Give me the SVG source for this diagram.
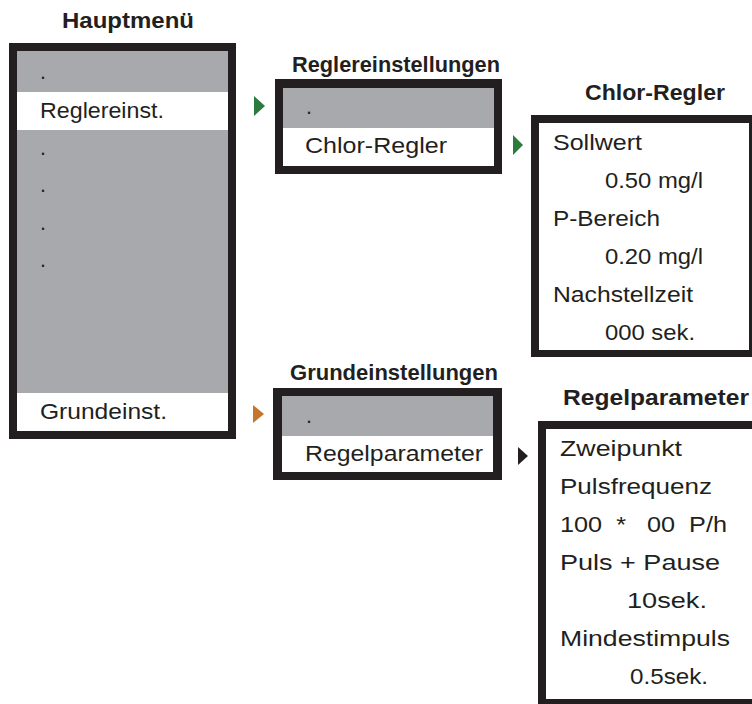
<svg xmlns="http://www.w3.org/2000/svg" width="752" height="704" viewBox="0 0 752 704">
<style>
.frame{fill:#231f20}
.gray{fill:#a7a9ac}
.white{fill:#ffffff}
.t{font-family:"Liberation Sans",Arial,sans-serif;font-size:21.5px;fill:#231f20}
.h{font-family:"Liberation Sans",Arial,sans-serif;font-size:21.5px;font-weight:bold;fill:#231f20}
.green{fill:#2b7b3d}
.orange{fill:#c4762f}
.black{fill:#231f20}
</style>
<rect x="0" y="0" width="752" height="704" fill="#ffffff"/>
<g id="hauptmenu">
<text class="h" x="62" y="28" textLength="132" lengthAdjust="spacingAndGlyphs">Hauptmenü</text>
<rect class="frame" x="9" y="43" width="227" height="396"/>
<rect class="gray" x="17" y="51" width="211" height="380"/>
<rect class="white" x="17" y="92" width="211" height="38"/>
<rect class="white" x="17" y="393" width="211" height="38"/>
<text class="t" x="40" y="79">.</text>
<text class="t" x="40" y="118" textLength="124" lengthAdjust="spacingAndGlyphs">Reglereinst.</text>
<text class="t" x="40" y="155">.</text>
<text class="t" x="40" y="192">.</text>
<text class="t" x="40" y="230">.</text>
<text class="t" x="40" y="267">.</text>
<text class="t" x="40" y="419" textLength="127" lengthAdjust="spacingAndGlyphs">Grundeinst.</text>
</g>
<g id="reglereinstellungen">
<text class="h" x="292" y="72" textLength="208" lengthAdjust="spacingAndGlyphs">Reglereinstellungen</text>
<rect class="frame" x="275" y="79" width="227" height="95"/>
<rect class="gray" x="283" y="88" width="211" height="40"/>
<rect class="white" x="283" y="128" width="211" height="38"/>
<text class="t" x="306" y="114">.</text>
<text class="t" x="305" y="153" textLength="142" lengthAdjust="spacingAndGlyphs">Chlor-Regler</text>
</g>
<g id="grundeinstellungen">
<text class="h" x="290" y="380" textLength="208" lengthAdjust="spacingAndGlyphs">Grundeinstellungen</text>
<rect class="frame" x="273" y="388" width="229" height="92"/>
<rect class="gray" x="282" y="396" width="211" height="40"/>
<rect class="white" x="282" y="436" width="211" height="36"/>
<text class="t" x="306" y="423">.</text>
<text class="t" x="305" y="461" textLength="178" lengthAdjust="spacingAndGlyphs">Regelparameter</text>
</g>
<g id="chlor-regler">
<text class="h" x="585" y="100" textLength="140" lengthAdjust="spacingAndGlyphs">Chlor-Regler</text>
<rect class="frame" x="531" y="115" width="230" height="242"/>
<rect class="white" x="539" y="123" width="210" height="227"/>
<text class="t" x="553" y="150" textLength="89" lengthAdjust="spacingAndGlyphs">Sollwert</text>
<text class="t" x="605" y="188" textLength="98" lengthAdjust="spacingAndGlyphs">0.50 mg/l</text>
<text class="t" x="553" y="226" textLength="107" lengthAdjust="spacingAndGlyphs">P-Bereich</text>
<text class="t" x="605" y="264" textLength="98" lengthAdjust="spacingAndGlyphs">0.20 mg/l</text>
<text class="t" x="553" y="302" textLength="140" lengthAdjust="spacingAndGlyphs">Nachstellzeit</text>
<text class="t" x="605" y="340" textLength="90" lengthAdjust="spacingAndGlyphs">000 sek.</text>
</g>
<g id="regelparameter">
<text class="h" x="563" y="405" textLength="186" lengthAdjust="spacingAndGlyphs">Regelparameter</text>
<rect class="frame" x="538" y="421" width="230" height="300"/>
<rect class="white" x="546" y="429" width="222" height="270"/>
<text class="t" x="560" y="456" textLength="122" lengthAdjust="spacingAndGlyphs">Zweipunkt</text>
<text class="t" x="560" y="494" textLength="152" lengthAdjust="spacingAndGlyphs">Pulsfrequenz</text>
<text class="t" x="560" y="532" textLength="167" lengthAdjust="spacingAndGlyphs" xml:space="preserve">100  *   00  P/h</text>
<text class="t" x="560" y="570" textLength="160" lengthAdjust="spacingAndGlyphs">Puls + Pause</text>
<text class="t" x="627" y="608" textLength="80" lengthAdjust="spacingAndGlyphs">10sek.</text>
<text class="t" x="630" y="684" textLength="78" lengthAdjust="spacingAndGlyphs">0.5sek.</text>
<text class="t" x="560" y="646" textLength="170" lengthAdjust="spacingAndGlyphs">Mindestimpuls</text>
</g>
<g id="connectors">
<polygon class="green" points="254,96 265,106 254,116"/>
<polygon class="green" points="513,135 523,145 513,155"/>
<polygon class="orange" points="253,405 264,414 253,423"/>
<polygon class="black" points="518,447 528,456 518,465"/>
</g>
</svg>
